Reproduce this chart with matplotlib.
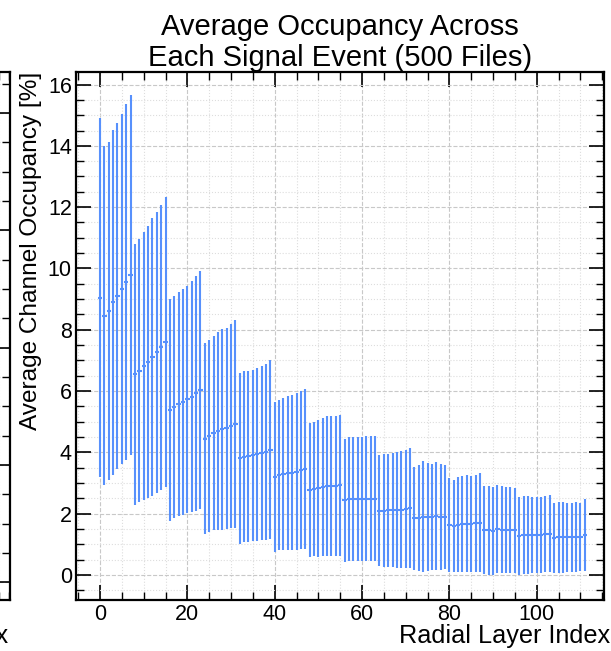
import matplotlib
matplotlib.use("Agg")
import matplotlib.pyplot as plt
from matplotlib.ticker import MultipleLocator
import numpy as np

# average occupancy per radial layer (14 superlayers x 8 layers)
layers = np.arange(112)
mean_occ = [
    9.05, 8.46, 8.61, 8.89, 9.10, 9.33, 9.57, 9.79,
    6.54, 6.66, 6.81, 6.94, 7.11, 7.26, 7.42, 7.60,
    5.38, 5.48, 5.57, 5.65, 5.73, 5.81, 5.93, 6.03,
    4.45, 4.54, 4.62, 4.69, 4.75, 4.78, 4.85, 4.92,
    3.80, 3.86, 3.87, 3.90, 3.94, 3.97, 4.02, 4.09,
    3.20, 3.25, 3.28, 3.32, 3.34, 3.37, 3.41, 3.45,
    2.77, 2.80, 2.82, 2.87, 2.89, 2.90, 2.90, 2.92,
    2.43, 2.47, 2.47, 2.47, 2.47, 2.48, 2.48, 2.48,
    2.09, 2.10, 2.11, 2.12, 2.12, 2.13, 2.16, 2.18,
    1.84, 1.86, 1.90, 1.90, 1.89, 1.91, 1.90, 1.89,
    1.62, 1.60, 1.64, 1.66, 1.67, 1.66, 1.68, 1.70,
    1.46, 1.46, 1.44, 1.49, 1.48, 1.47, 1.47, 1.45,
    1.28, 1.30, 1.30, 1.31, 1.31, 1.31, 1.33, 1.35,
    1.20, 1.22, 1.22, 1.22, 1.23, 1.24, 1.24, 1.29,
]
std_occ = [
    5.87, 5.53, 5.52, 5.64, 5.65, 5.72, 5.81, 5.88,
    4.25, 4.29, 4.38, 4.43, 4.52, 4.58, 4.64, 4.74,
    3.63, 3.62, 3.66, 3.68, 3.71, 3.77, 3.83, 3.88,
    3.13, 3.14, 3.17, 3.23, 3.27, 3.29, 3.33, 3.39,
    2.79, 2.80, 2.79, 2.80, 2.82, 2.84, 2.87, 2.92,
    2.45, 2.45, 2.48, 2.52, 2.54, 2.57, 2.58, 2.60,
    2.20, 2.19, 2.23, 2.26, 2.28, 2.29, 2.29, 2.31,
    2.02, 2.03, 2.03, 2.03, 2.03, 2.04, 2.04, 2.04,
    1.81, 1.84, 1.85, 1.87, 1.88, 1.90, 1.93, 1.96,
    1.69, 1.74, 1.80, 1.76, 1.74, 1.76, 1.73, 1.69,
    1.53, 1.51, 1.55, 1.57, 1.58, 1.57, 1.59, 1.61,
    1.43, 1.45, 1.43, 1.43, 1.42, 1.41, 1.41, 1.39,
    1.27, 1.27, 1.27, 1.24, 1.24, 1.24, 1.25, 1.27,
    1.14, 1.16, 1.15, 1.13, 1.12, 1.13, 1.11, 1.17,
]

plt.rcParams['font.family'] = ['Liberation Sans', 'DejaVu Sans']
plt.rcParams['axes.linewidth'] = 1.6

W, H = 611, 651
fig = plt.figure(figsize=(W / 100, H / 100), dpi=100)


def style_axes(ax):
    ax.tick_params(which='both', direction='in', top=True, right=True, labelsize=15.5, pad=3)
    ax.tick_params(which='major', length=11, width=1.2)
    ax.tick_params(which='minor', length=5.5, width=1.0)
    ax.xaxis.set_major_locator(MultipleLocator(20))
    ax.xaxis.set_minor_locator(MultipleLocator(5))
    ax.yaxis.set_major_locator(MultipleLocator(2))
    ax.yaxis.set_minor_locator(MultipleLocator(0.5))
    ax.grid(which='major', color='#c8c8c8', linestyle='--', linewidth=0.8)
    ax.grid(which='minor', color='#dddddd', linestyle=':', linewidth=0.8)
    ax.set_axisbelow(True)


def place_xlabel(ax, width_px, dx_px):
    ax.xaxis.set_label_coords(1 + dx_px / width_px, -43 / 528)
    ax.xaxis.label.set_horizontalalignment('right')
    ax.xaxis.label.set_verticalalignment('baseline')


# neighbouring panel, mostly cut off at the left edge
ax_l = fig.add_axes([10 / W - 0.4, 51 / H, 0.4, 528 / H])
style_axes(ax_l)
ax_l.set_xlim(-5.5, 115.3)
ax_l.set_ylim(-0.3, 8.7)
ax_l.tick_params(labelleft=False, labelbottom=False)
ax_l.set_xlabel('Radial Layer Index', fontsize=18.2)
place_xlabel(ax_l, 0.4 * W, -2)

# main panel
ax = fig.add_axes([76 / W, 51 / H, 527.5 / W, 528 / H])
style_axes(ax)
ax.errorbar(layers, mean_occ, yerr=std_occ, xerr=0.5, fmt='none',
            ecolor='#5790fc', elinewidth=1.5)
ax.set_xlim(-5.5, 115.3)
ax.set_ylim(-0.82, 16.41)

ax.set_title('Average Occupancy Across\nEach Signal Event (500 Files)',
             fontsize=21, pad=1.5, linespacing=1.15)
ax.set_xlabel('Radial Layer Index', fontsize=18.2)
place_xlabel(ax, 527.5, 6.5)
ax.set_ylabel('Average Channel Occupancy [%]', fontsize=17.6, loc='top')

fig.savefig('out.png', dpi=100)
